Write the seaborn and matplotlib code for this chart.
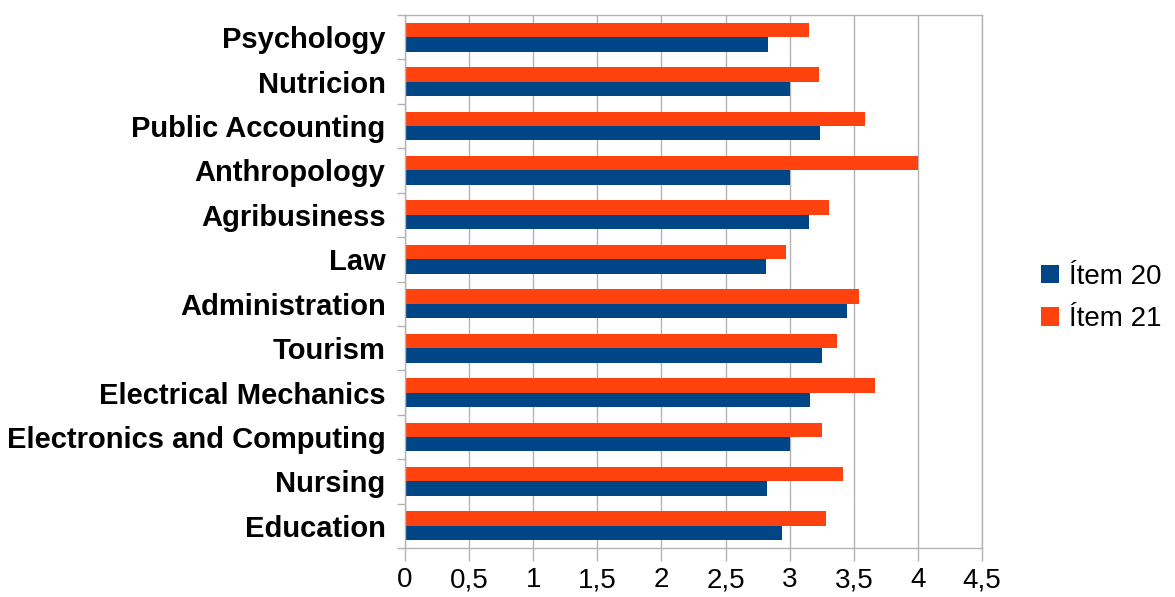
import matplotlib
matplotlib.use("Agg")
import matplotlib.pyplot as plt
import seaborn as sns
import pandas as pd
from matplotlib.patches import Patch
from matplotlib.ticker import FixedLocator

categories = ["Psychology", "Nutricion", "Public Accounting", "Anthropology",
              "Agribusiness", "Law", "Administration", "Tourism",
              "Electrical Mechanics", "Electronics and Computing", "Nursing",
              "Education"]
item20 = [2.83, 3.00, 3.235, 3.00, 3.148, 2.815, 3.45, 3.25, 3.16, 3.00, 2.827, 2.944]
item21 = [3.154, 3.225, 3.586, 4.00, 3.31, 2.972, 3.543, 3.373, 3.664, 3.25, 3.414, 3.287]
series_names = ["Ítem 20", "Ítem 21"]
series_colors = ["#004586", "#ff420e"]
x_ticks = [0, 0.5, 1, 1.5, 2, 2.5, 3, 3.5, 4, 4.5]
x_tick_labels = ["0", "0,5", "1", "1,5", "2", "2,5", "3", "3,5", "4", "4,5"]

df = pd.DataFrame({
    "Career": categories * 2,
    "Score": item20 + item21,
    "Series": [series_names[0]] * len(categories) + [series_names[1]] * len(categories),
})

sns.set_theme(style="white")
plt.rcParams["font.family"] = ["Liberation Sans", "DejaVu Sans"]
plt.rcParams["text.color"] = "black"
plt.rcParams["xtick.labelcolor"] = "black"
plt.rcParams["ytick.labelcolor"] = "black"

fig = plt.figure(figsize=(11.75, 5.97), dpi=100)
ax = fig.add_axes([405 / 1175, 1 - 548 / 597, (982 - 405) / 1175, (548 - 15) / 597])

palette = dict(zip(series_names, series_colors))
sns.barplot(data=df, y="Career", x="Score", hue="Series",
            hue_order=[series_names[1], series_names[0]], order=categories,
            palette=palette, width=0.65, orient="h", ax=ax, legend=False,
            saturation=1, edgecolor="none")

ax.set_xlim(0, 4.5)
ax.set_ylim(len(categories) - 0.5, -0.5)
ax.set_xlabel("")
ax.set_ylabel("")

grid_c = "#b3b3b3"
ax.set_axisbelow(True)
ax.xaxis.grid(True, color=grid_c, lw=1)
ax.yaxis.grid(False)
for s in ax.spines.values():
    s.set_color(grid_c)
    s.set_linewidth(1)

ax.set_xticks(x_ticks)
ax.set_xticklabels(x_tick_labels, fontsize=20, color="black")
ax.tick_params(axis="x", which="major", direction="out", length=9, width=1,
               color=grid_c, pad=5, bottom=True)

ax.set_yticks(range(len(categories)))
ax.set_yticklabels(categories, fontsize=21, fontweight="bold", color="black")
ax.tick_params(axis="y", which="major", length=0, pad=14, left=True)
ax.yaxis.set_minor_locator(FixedLocator([i - 0.5 for i in range(len(categories) + 1)]))
ax.tick_params(axis="y", which="minor", direction="out", length=6, width=1,
               color=grid_c, left=True)

handles = [Patch(facecolor=c, edgecolor="none") for c in series_colors]
fig.legend(handles=handles, labels=series_names, loc="center left",
           bbox_to_anchor=(1030 / 1175, 1 - 298 / 597), frameon=False,
           fontsize=20, handlelength=0.65, handleheight=0.65,
           handletextpad=0.35, labelspacing=0.6, borderaxespad=0)

fig.savefig("out.png", dpi=100)
